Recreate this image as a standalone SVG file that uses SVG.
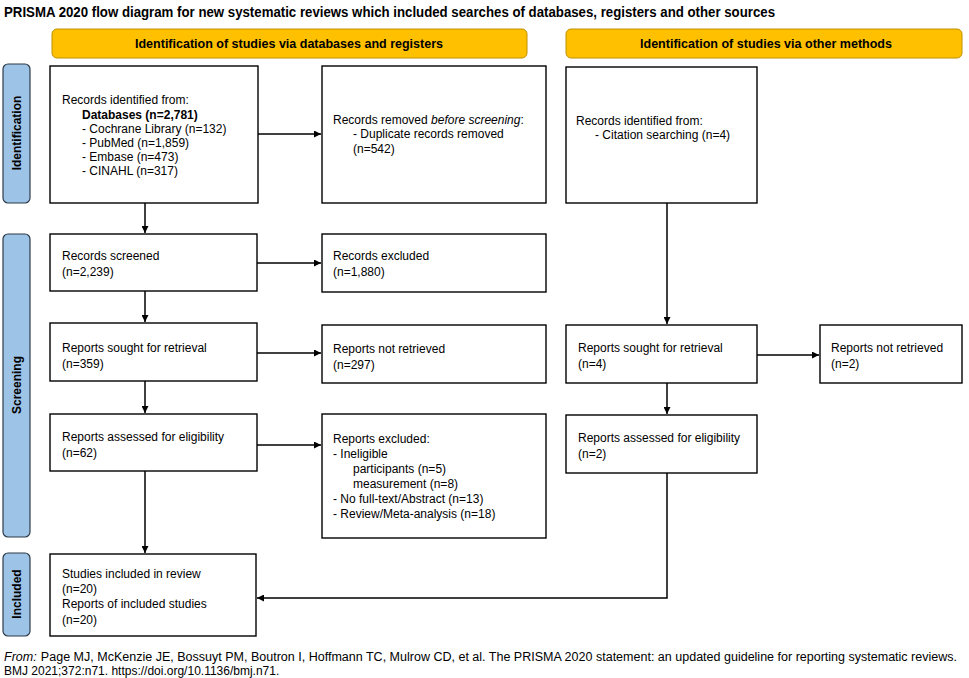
<svg xmlns="http://www.w3.org/2000/svg" width="969" height="678" viewBox="0 0 969 678">
<style>
  .box{fill:#fff;stroke:#000;stroke-width:1.4}
  .hdr{fill:#FFC000;stroke:#C09000;stroke-width:1}
  .side{fill:#9DC3E6;stroke:#2E3B4A;stroke-width:1.2}
  .t{font-family:"Liberation Sans",Arial,sans-serif;font-size:12px;fill:#000}
  .b{font-weight:bold}
  .hd{font-family:"Liberation Sans",Arial,sans-serif;font-size:12.5px;font-weight:bold;fill:#000}
  .st{font-family:"Liberation Sans",Arial,sans-serif;font-size:12px;font-weight:bold;fill:#000}
  .ln{fill:none;stroke:#000;stroke-width:1.5}
</style>
<defs>
  <marker id="ah" viewBox="0 0 10 10" refX="10" refY="5" markerWidth="7" markerHeight="7" markerUnits="userSpaceOnUse" orient="auto">
    <path d="M0,0 L10,5 L0,10 z" fill="#000"/>
  </marker>
</defs>
<rect width="969" height="678" fill="#fff"/>

<text x="4" y="17" class="hd" style="font-size:14px" textLength="771" lengthAdjust="spacingAndGlyphs">PRISMA 2020 flow diagram for new systematic reviews which included searches of databases, registers and other sources</text>

<g id="header-db">
  <rect x="52" y="29" width="475" height="29" rx="5" class="hdr"/>
  <text x="289" y="48" text-anchor="middle" class="hd" textLength="308" lengthAdjust="spacingAndGlyphs">Identification of studies via databases and registers</text>
</g>
<g id="header-other">
  <rect x="566" y="29" width="396" height="29" rx="5" class="hdr"/>
  <text x="766" y="48" text-anchor="middle" class="hd" textLength="252" lengthAdjust="spacingAndGlyphs">Identification of studies via other methods</text>
</g>

<g id="side-identification">
  <rect x="3" y="64" width="27" height="139" rx="5" class="side"/>
  <text transform="translate(21,133) rotate(-90)" text-anchor="middle" class="st">Identification</text>
</g>
<g id="side-screening">
  <rect x="3" y="234" width="27" height="303" rx="5" class="side"/>
  <text transform="translate(21,385) rotate(-90)" text-anchor="middle" class="st">Screening</text>
</g>
<g id="side-included">
  <rect x="3" y="553" width="27" height="83" rx="5" class="side"/>
  <text transform="translate(21,594) rotate(-90)" text-anchor="middle" class="st">Included</text>
</g>

<g id="records-identified-db">
  <rect x="50" y="66" width="208" height="137" class="box"/>
  <text class="t" x="62" y="104">Records identified from:</text>
  <text class="t b" x="82" y="119">Databases (n=2,781)</text>
  <text class="t" x="82" y="133">- Cochrane Library (n=132)</text>
  <text class="t" x="82" y="147">- PubMed (n=1,859)</text>
  <text class="t" x="82" y="161">- Embase (n=473)</text>
  <text class="t" x="82" y="175">- CINAHL (n=317)</text>
</g>
<g id="records-removed">
  <rect x="322" y="66" width="224" height="137" class="box"/>
  <text class="t" x="333" y="124">Records removed <tspan font-style="italic">before screening</tspan>:</text>
  <text class="t" x="353" y="138">- Duplicate records removed</text>
  <text class="t" x="353" y="153">(n=542)</text>
</g>
<g id="records-identified-other">
  <rect x="566" y="67" width="191" height="136" class="box"/>
  <text class="t" x="576" y="125">Records identified from:</text>
  <text class="t" x="595" y="139">- Citation searching (n=4)</text>
</g>

<g id="records-screened">
  <rect x="50" y="234" width="207" height="57" class="box"/>
  <text class="t" x="62" y="260">Records screened</text>
  <text class="t" x="62" y="276">(n=2,239)</text>
</g>
<g id="records-excluded">
  <rect x="322" y="234" width="224" height="58" class="box"/>
  <text class="t" x="333" y="260">Records excluded</text>
  <text class="t" x="333" y="276">(n=1,880)</text>
</g>
<g id="reports-sought-db">
  <rect x="50" y="323" width="207" height="58" class="box"/>
  <text class="t" x="62" y="352">Reports sought for retrieval</text>
  <text class="t" x="62" y="368">(n=359)</text>
</g>
<g id="reports-not-retrieved-db">
  <rect x="322" y="325" width="224" height="58" class="box"/>
  <text class="t" x="333" y="353">Reports not retrieved</text>
  <text class="t" x="333" y="369">(n=297)</text>
</g>
<g id="reports-assessed-db">
  <rect x="50" y="414" width="207" height="57" class="box"/>
  <text class="t" x="62" y="441">Reports assessed for eligibility</text>
  <text class="t" x="62" y="457">(n=62)</text>
</g>
<g id="reports-excluded">
  <rect x="322" y="414" width="224" height="124" class="box"/>
  <text class="t" x="333" y="443">Reports excluded:</text>
  <text class="t" x="333" y="458">- Ineligible</text>
  <text class="t" x="353" y="473">participants (n=5)</text>
  <text class="t" x="353" y="488">measurement (n=8)</text>
  <text class="t" x="333" y="503">- No full-text/Abstract (n=13)</text>
  <text class="t" x="333" y="518">- Review/Meta-analysis (n=18)</text>
</g>
<g id="reports-sought-other">
  <rect x="566" y="325" width="191" height="58" class="box"/>
  <text class="t" x="578" y="352">Reports sought for retrieval</text>
  <text class="t" x="578" y="368">(n=4)</text>
</g>
<g id="reports-not-retrieved-other">
  <rect x="820" y="325" width="142" height="58" class="box"/>
  <text class="t" x="831" y="352">Reports not retrieved</text>
  <text class="t" x="831" y="368">(n=2)</text>
</g>
<g id="reports-assessed-other">
  <rect x="566" y="415" width="191" height="58" class="box"/>
  <text class="t" x="578" y="442">Reports assessed for eligibility</text>
  <text class="t" x="578" y="458">(n=2)</text>
</g>
<g id="studies-included">
  <rect x="50" y="554" width="206" height="82" class="box"/>
  <text class="t" x="62" y="578">Studies included in review</text>
  <text class="t" x="62" y="593">(n=20)</text>
  <text class="t" x="62" y="608">Reports of included studies</text>
  <text class="t" x="62" y="624">(n=20)</text>
</g>

<g id="connectors">
  <line class="ln" x1="258" y1="134" x2="321" y2="134" marker-end="url(#ah)"/>
  <line class="ln" x1="145" y1="203" x2="145" y2="233" marker-end="url(#ah)"/>
  <line class="ln" x1="257" y1="263" x2="321" y2="263" marker-end="url(#ah)"/>
  <line class="ln" x1="145" y1="291" x2="145" y2="322" marker-end="url(#ah)"/>
  <line class="ln" x1="257" y1="353" x2="321" y2="353" marker-end="url(#ah)"/>
  <line class="ln" x1="145" y1="381" x2="145" y2="413" marker-end="url(#ah)"/>
  <line class="ln" x1="257" y1="445" x2="321" y2="445" marker-end="url(#ah)"/>
  <line class="ln" x1="145" y1="471" x2="145" y2="553" marker-end="url(#ah)"/>
  <line class="ln" x1="667" y1="203" x2="667" y2="324" marker-end="url(#ah)"/>
  <line class="ln" x1="757" y1="355" x2="819" y2="355" marker-end="url(#ah)"/>
  <line class="ln" x1="667" y1="383" x2="667" y2="414" marker-end="url(#ah)"/>
  <polyline class="ln" points="667,473 667,598 257,598" marker-end="url(#ah)"/>
</g>

<text class="t" x="4" y="661" textLength="953" lengthAdjust="spacingAndGlyphs"><tspan font-style="italic">From:</tspan><tspan dx="4">Page MJ, McKenzie JE, Bossuyt PM, Boutron I, Hoffmann TC, Mulrow CD, et al. The PRISMA 2020 statement: an updated guideline for reporting systematic reviews.</tspan></text>
<text class="t" x="4" y="675">BMJ 2021;372:n71. https://doi.org/10.1136/bmj.n71.</text>
</svg>
